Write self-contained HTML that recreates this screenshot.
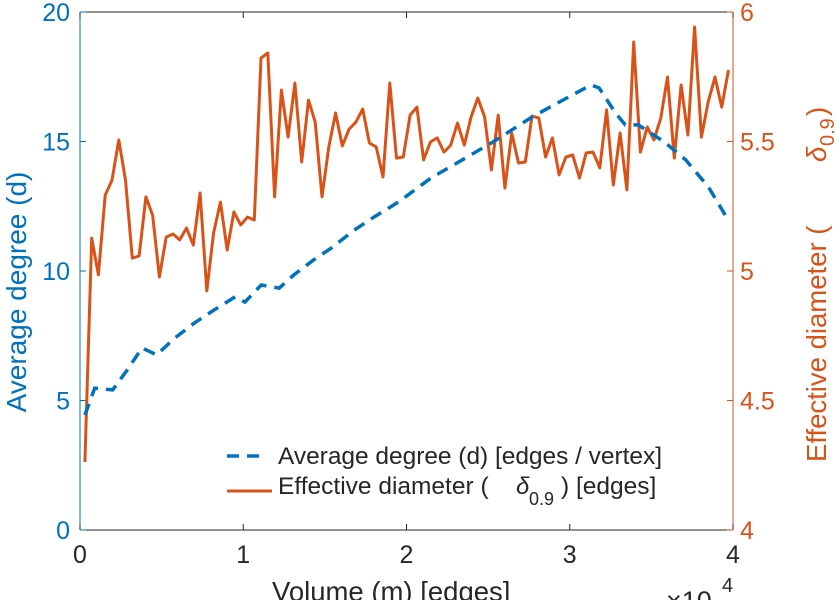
<!DOCTYPE html>
<html><head><meta charset="utf-8"><style>
body{margin:0;background:#fff;}
svg{display:block;font-family:"Liberation Sans",sans-serif;}
</style></head><body>
<svg id="chart" width="838" height="600">
<g id="g"></g>
</svg>
<script>
const volumeStart = 0.03, volumeStep = 0.0415; // x in units of 10^4 edges
const diameterValues = [4.263,5.127,4.985,5.293,5.351,5.506,5.351,5.050,5.058,5.286,5.216,4.977,5.131,5.143,5.120,5.166,5.100,5.301,4.923,5.147,5.266,5.081,5.228,5.178,5.208,5.197,5.822,5.842,5.286,5.699,5.517,5.726,5.421,5.660,5.575,5.286,5.479,5.610,5.483,5.548,5.575,5.625,5.494,5.479,5.363,5.726,5.436,5.440,5.602,5.633,5.429,5.498,5.514,5.459,5.486,5.571,5.486,5.595,5.668,5.595,5.390,5.602,5.320,5.533,5.417,5.421,5.598,5.591,5.440,5.514,5.371,5.440,5.448,5.359,5.456,5.459,5.398,5.622,5.332,5.533,5.313,5.884,5.459,5.556,5.506,5.591,5.749,5.436,5.718,5.525,5.942,5.517,5.653,5.749,5.633,5.776];
const degreeX = [0.03,0.09,0.20,0.29,0.38,0.47,0.58,0.70,0.82,0.95,1.01,1.11,1.22,1.31,1.43,1.54,1.68,1.80,1.95,2.15,2.36,2.53,2.77,2.97,3.13,3.18,3.28,3.34,3.42,3.58,3.71,3.85,3.97];
const degreeValues = [4.44,5.48,5.41,6.18,7.03,6.76,7.41,7.99,8.49,9.00,8.80,9.46,9.34,9.85,10.42,10.89,11.58,12.08,12.66,13.59,14.36,14.98,15.95,16.64,17.18,17.07,16.10,15.64,15.64,14.98,14.29,13.24,11.97];
const xTicks = [0,1,2,3,4];
const leftTicks = [0,5,10,15,20];
const rightTicks = [4,4.5,5,5.5,6];

const L=80,R=733,T=12,B=530;
const sx=v=>L+(v-0)/4*(R-L);
const syL=v=>B-(v/20)*(B-T);
const syR=v=>B-((v-4)/2)*(B-T);
const NS='http://www.w3.org/2000/svg';
const g=document.getElementById('g');
function mk(tag,attrs,parent){const e=document.createElementNS(NS,tag);for(const k in attrs)e.setAttribute(k,attrs[k]);(parent||g).appendChild(e);return e;}
function txt(s,attrs){const e=mk('text',attrs);e.textContent=s;return e;}

let e;
e=mk('line',{x1:L,y1:T,x2:R,y2:T,stroke:'#262626','stroke-width':1});


e=mk('line',{x1:L,y1:B,x2:R,y2:B,stroke:'#262626','stroke-width':1});


e=mk('line',{x1:L,y1:T,x2:L,y2:B,stroke:'#0072BD','stroke-width':1});


e=mk('line',{x1:R,y1:T,x2:R,y2:B,stroke:'#D95319','stroke-width':1});



xTicks.forEach(t=>{
  mk('line',{x1:sx(t),y1:B,x2:sx(t),y2:B-6,stroke:'#262626'});
  mk('line',{x1:sx(t),y1:T,x2:sx(t),y2:T+6,stroke:'#262626'});
  e=txt(String(t),{x:sx(t),y:563,'text-anchor':'middle','font-size':25,fill:'#262626'});
  
  
});
leftTicks.forEach(t=>{
  mk('line',{x1:L,y1:syL(t),x2:L+6,y2:syL(t),stroke:'#0072BD'});
  e=txt(String(t),{x:L-10,y:syL(t)+9,'text-anchor':'end','font-size':25,fill:'#0072BD'});
  
  
});
rightTicks.forEach(t=>{
  mk('line',{x1:R,y1:syR(t),x2:R-6,y2:syR(t),stroke:'#D95319'});
  e=txt(String(t),{x:R+7,y:syR(t)+9,'text-anchor':'start','font-size':25,fill:'#D95319'});
  
  
});

let d='';
diameterValues.forEach((v,i)=>{d+=(i?'L':'M')+sx(volumeStart+i*volumeStep).toFixed(1)+','+syR(v).toFixed(1);});
e=mk('path',{d:d,fill:'none',stroke:'#D95319','stroke-width':3,'stroke-linejoin':'round'});


d='';
degreeValues.forEach((v,i)=>{d+=(i?'L':'M')+sx(degreeX[i]).toFixed(1)+','+syL(v).toFixed(1);});
e=mk('path',{d:d,fill:'none',stroke:'#0072BD','stroke-width':3.5,'stroke-dasharray':'12,8'});



e=mk('line',{x1:227,y1:456,x2:265,y2:456,stroke:'#0072BD','stroke-width':3.5,'stroke-dasharray':'12,8'});


e=txt('Average degree (d) [edges / vertex]',{x:278,y:464,'font-size':24.5,fill:'#262626',textLength:384});


e=mk('line',{x1:227,y1:491,x2:272,y2:491,stroke:'#D95319','stroke-width':3});


e=txt('Effective diameter (',{x:278,y:494,'font-size':24.5,fill:'#262626'});


txt('δ',{x:516,y:494,'font-size':24,'font-style':'italic',fill:'#262626'});
txt('0.9',{x:529,y:505,'font-size':18,fill:'#262626'});
txt(') [edges]',{x:561,y:494,'font-size':24.5,fill:'#262626'});

e=txt('Volume (m) [edges]',{x:272,y:601,'font-size':27.5,fill:'#262626'});


e=txt('×10',{x:666,y:610,'font-size':27,fill:'#262626'});


txt('4',{x:722,y:592,'font-size':20,fill:'#262626'});
e=txt('Average degree (d)',{x:0,y:0,'text-anchor':'middle','font-size':28,fill:'#0072BD',transform:'translate(26,292) rotate(-90)'});


e=mk('text',{'font-size':27.5,fill:'#D95319',transform:'translate(826,462) rotate(-90)'});


e.innerHTML='<tspan x="0" y="0">Effective diameter (</tspan><tspan x="300" y="0" font-style="italic">δ</tspan><tspan x="316" y="8" font-size="20">0.9</tspan><tspan x="346" y="0">)</tspan>';
</script>
</body></html>
